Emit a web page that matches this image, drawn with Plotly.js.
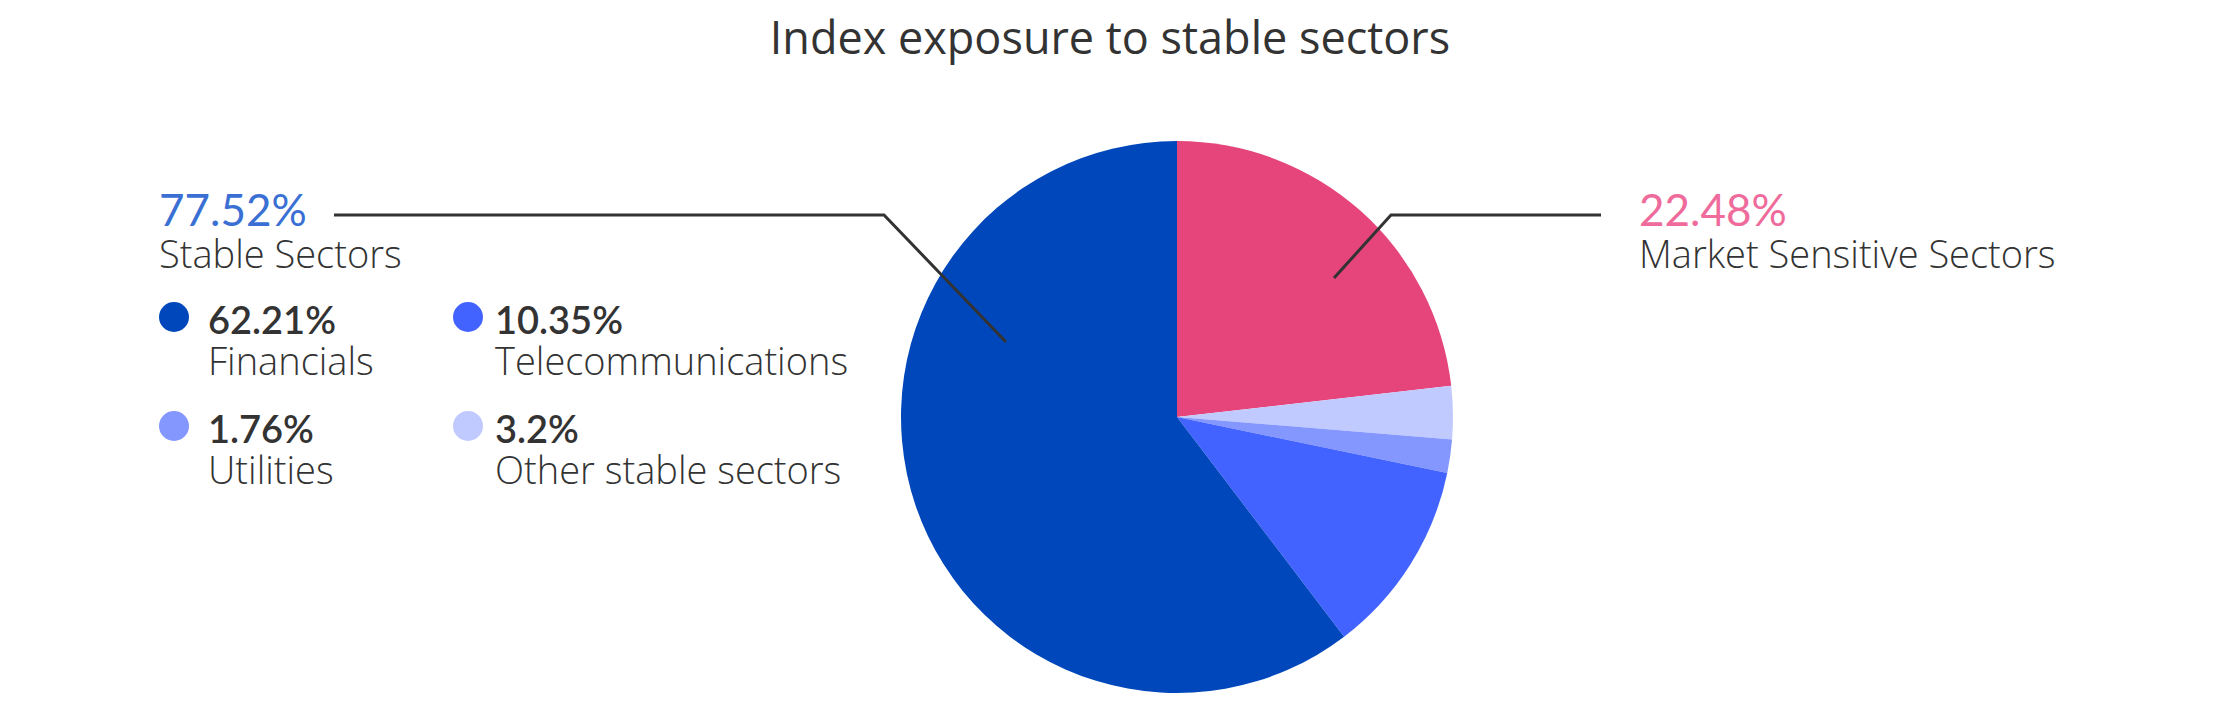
<!DOCTYPE html>
<html>
<head>
<meta charset="utf-8">
<script src="https://cdn.plot.ly/plotly-3.0.1.min.js"></script>
<style>
  html, body { margin: 0; padding: 0; background: #fff; }
  #chart { width: 2220px; height: 722px; }
</style>
</head>
<body>
<div id="chart"></div>
<script>
// slices, clockwise from 12 o'clock
const sliceNames = ["Market Sensitive Sectors", "Other stable sectors", "Utilities", "Telecommunications", "Financials"];
const sliceValues = [23.2, 3.1, 1.95, 11.4, 60.35];
const sliceColors = ["#E5457A", "#C1CAFF", "#8497FF", "#4263FF", "#0047BB"];

// group labels
const groupValues = ["77.52%", "22.48%"];
const groupNames = ["Stable Sectors", "Market Sensitive Sectors"];
const groupColors = ["#3A70D4", "#EE6B9B"];

// legend (2x2 grid)
const legendNames = ["Financials", "Telecommunications", "Utilities", "Other stable sectors"];
const legendValues = ["62.21%", "10.35%", "1.76%", "3.2%"];
const legendColors = ["#0047BB", "#4263FF", "#8497FF", "#C1CAFF"];

const W = 2220, H = 722;
const px = (x) => x / W;
const py = (y) => 1 - y / H;

// pie placement (pixels)
const cx = 1177, cy = 417, r = 276;

const trace = {
  type: "pie",
  labels: sliceNames,
  values: sliceValues,
  sort: false,
  direction: "clockwise",
  rotation: 0,
  marker: { colors: sliceColors, line: { width: 0 } },
  textinfo: "none",
  hoverinfo: "none",
  showlegend: false,
  domain: {
    x: [px(cx - r), px(cx + r)],
    y: [py(cy + r), py(cy - r)],
  },
};

const NUM_FONT = "Lato, sans-serif";
const TXT_FONT = "'Open Sans', sans-serif";
const annotations = [];
const shapes = [];

function label(x, yMid, text, family, size, color, weight) {
  annotations.push({
    xref: "paper", yref: "paper",
    x: px(x), y: py(yMid),
    xanchor: "left", yanchor: "middle",
    text: text, showarrow: false,
    font: { family: family, size: size, color: color, weight: weight },
  });
}

// group labels left / right
const groupX = [157, 1637];
groupValues.forEach((v, i) => {
  label(groupX[i], 209, v, NUM_FONT, 44, groupColors[i], 400);
  label(groupX[i], 253, groupNames[i], TXT_FONT, 38, "#333333", 300);
});

// callout lines
const callouts = [
  [[334, 215], [884, 215], [1006, 342]],
  [[1601, 215], [1391, 215], [1334, 278]],
];
callouts.forEach((pts) => {
  shapes.push({
    type: "path", xref: "paper", yref: "paper",
    path: pts.map((p, k) => (k ? "L" : "M") + px(p[0]) + "," + py(p[1])).join(" "),
    line: { color: "#333333", width: 3 },
  });
});

// legend grid
const colX = [174, 468], rowY = [317, 426], textOff = [32, 25];
legendNames.forEach((name, i) => {
  const c = i % 2;
  const x = colX[c], y = rowY[Math.floor(i / 2)];
  shapes.push({
    type: "circle", xref: "paper", yref: "paper",
    x0: px(x - 15), x1: px(x + 15), y0: py(y + 15), y1: py(y - 15),
    fillcolor: legendColors[i], line: { width: 0 },
  });
  label(x + textOff[c], y + 2, legendValues[i], NUM_FONT, 38, "#333333", 600);
  label(x + textOff[c], y + 43, name, TXT_FONT, 38, "#333333", 300);
});

const layout = {
  width: W, height: H,
  margin: { l: 0, r: 0, t: 0, b: 0 },
  paper_bgcolor: "#ffffff",
  title: {
    text: "Index exposure to stable sectors",
    x: 0.5, xanchor: "center",
    y: py(38), yanchor: "middle",
    font: { family: TXT_FONT, size: 45, color: "#333333", weight: 400 },
  },
  annotations: annotations,
  shapes: shapes,
};

Plotly.newPlot("chart", [trace], layout, { displayModeBar: false, staticPlot: true });
</script>
</body>
</html>
